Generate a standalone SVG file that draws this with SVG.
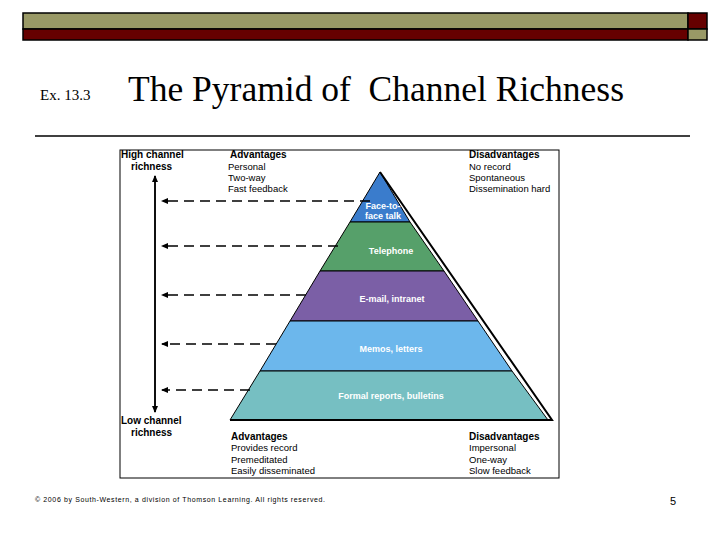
<svg xmlns="http://www.w3.org/2000/svg" width="720" height="540" viewBox="0 0 720 540">
<style>
.h{font-family:"Liberation Sans",Arial,sans-serif;font-weight:bold;font-size:10px;fill:#000}
.t{font-family:"Liberation Sans",Arial,sans-serif;font-size:9.5px;fill:#000}
.w{font-family:"Liberation Sans",Arial,sans-serif;font-weight:bold;font-size:9px;fill:#fff;text-anchor:middle}
.d{stroke:#000;stroke-width:1.5;stroke-dasharray:10,6;fill:none}
</style>
<defs><marker id="a" markerWidth="8" markerHeight="8" refX="6" refY="4" orient="auto" markerUnits="userSpaceOnUse"><path d="M0,1 L7,4 L0,7 Z" fill="#000"/></marker></defs>
<g id="header" stroke="#000" stroke-width="1.5">
<rect x="23" y="13" width="665" height="16" fill="#999966"/>
<rect x="688" y="13" width="19" height="16" fill="#660000"/>
<rect x="23" y="29" width="665" height="11" fill="#660000"/>
<rect x="688" y="29" width="19" height="11" fill="#999966"/>
</g>
<text x="40" y="100" font-family="Liberation Serif,serif" font-size="15">Ex. 13.3</text>
<text x="128" y="101" font-family="Liberation Serif,serif" font-size="35" textLength="496" lengthAdjust="spacingAndGlyphs">The Pyramid of&#160; Channel Richness</text>
<line x1="35" y1="136" x2="690" y2="136" stroke="#000" stroke-width="1.5"/>
<rect x="120" y="150" width="439" height="328" fill="#fff" stroke="#000"/>
<g id="pyramid" stroke="#000" stroke-width="1">
<polygon id="face" points="380,172 410,222 350,222" fill="#3a7ccc"/>
<polygon id="telephone" points="350,222 410,222 444,271 320,271" fill="#56a06a"/>
<polygon id="email" points="320,271 444,271 478,321 290,321" fill="#7b5fa6"/>
<polygon id="memos" points="290,321 478,321 512,371 260,371" fill="#6cb7ec"/>
<polygon id="formal" points="260,371 512,371 548,420 230,420" fill="#76bfc2"/>
<polyline points="380,172 552,420 230,420" fill="none" stroke-width="2"/>
</g>
<text class="w" x="383" y="209">Face-to-</text>
<text class="w" x="383" y="219">face talk</text>
<text class="w" x="391" y="254">Telephone</text>
<text class="w" x="392" y="302">E-mail, intranet</text>
<text class="w" x="391" y="352">Memos, letters</text>
<text class="w" x="391" y="399">Formal reports, bulletins</text>
<g id="connectors">
<line x1="155" y1="412" x2="155" y2="176" stroke="#000" stroke-width="1.5" marker-end="url(#a)"/>
<line x1="155" y1="176" x2="155" y2="412" stroke="#000" stroke-width="1.5" marker-end="url(#a)"/>
<line class="d" x1="370" y1="201" x2="162" y2="201" marker-end="url(#a)"/>
<line class="d" x1="338" y1="246" x2="162" y2="246" marker-end="url(#a)"/>
<line class="d" x1="306" y1="295" x2="162" y2="295" marker-end="url(#a)"/>
<line class="d" x1="276" y1="344" x2="162" y2="344" marker-end="url(#a)"/>
<line class="d" x1="250" y1="390" x2="162" y2="390" marker-end="url(#a)"/>
</g>
<text class="h" x="121" y="158">High channel</text>
<text class="h" x="131" y="170">richness</text>
<text class="h" x="121" y="424">Low channel</text>
<text class="h" x="131" y="436">richness</text>
<text class="h" x="230" y="158">Advantages</text>
<text class="t" x="228" y="170">Personal</text>
<text class="t" x="228" y="181">Two-way</text>
<text class="t" x="228" y="192">Fast feedback</text>
<text class="h" x="469" y="158">Disadvantages</text>
<text class="t" x="469" y="170">No record</text>
<text class="t" x="469" y="181">Spontaneous</text>
<text class="t" x="469" y="192">Dissemination hard</text>
<text class="h" x="231" y="440">Advantages</text>
<text class="t" x="231" y="451">Provides record</text>
<text class="t" x="231" y="463">Premeditated</text>
<text class="t" x="231" y="474">Easily disseminated</text>
<text class="h" x="469" y="440">Disadvantages</text>
<text class="t" x="469" y="451">Impersonal</text>
<text class="t" x="469" y="463">One-way</text>
<text class="t" x="469" y="474">Slow feedback</text>
<text x="35" y="502" font-family="Liberation Sans,sans-serif" font-size="7" textLength="290">© 2006 by South-Western, a division of Thomson Learning. All rights reserved.</text>
<text x="670" y="505" font-family="Liberation Sans,sans-serif" font-size="11">5</text>
</svg>
